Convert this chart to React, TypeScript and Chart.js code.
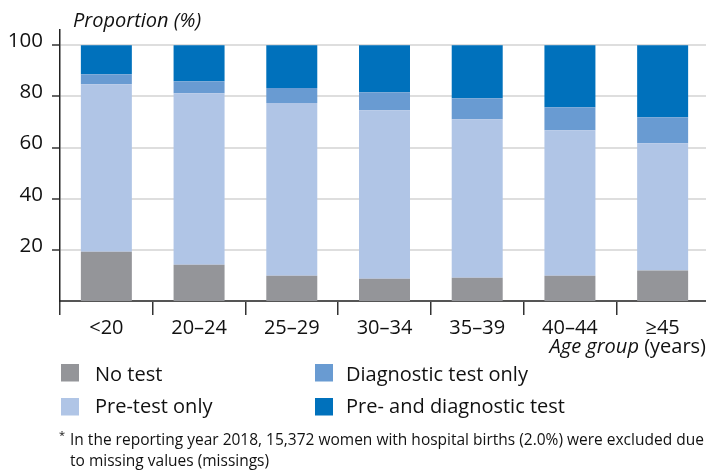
import React, { useEffect, useRef } from "react";
import { Chart, registerables } from "chart.js";

Chart.register(...registerables);

const categories = ["<20", "20–24", "25–29", "30–34", "35–39", "40–44", "≥45"];
const noTest = [19.3, 14.2, 9.9, 8.7, 9.1, 9.9, 11.9];
const preTestOnly = [65.5, 67.1, 67.5, 65.9, 62.0, 56.9, 49.8];
const diagnosticOnly = [3.9, 4.7, 5.9, 7.1, 8.2, 9.0, 10.2];
const preAndDiagnostic = [11.3, 14.0, 16.7, 18.3, 20.7, 24.2, 28.1];
const yTickValues = [20, 40, 60, 80, 100];

const seriesNames = ["No test", "Pre-test only", "Diagnostic test only", "Pre- and diagnostic test"];
const seriesColors = ["#949599", "#b0c5e6", "#699bd2", "#0071bc"];

const FONT = "'Open Sans', 'DejaVu Sans', sans-serif";
const TEXT = "#111111";

const textPlugin = {
  id: "textPlugin",
  afterDraw(chart: any) {
    const ctx = chart.ctx;
    ctx.save();
    ctx.fillStyle = TEXT;
    ctx.textBaseline = "alphabetic";
    // y axis title
    ctx.font = `italic 20px ${FONT}`;
    ctx.textAlign = "left";
    ctx.fillText("Proportion (%)", 73, 27);
    // x axis title (right aligned)
    ctx.font = `20px ${FONT}`;
    const yrs = " (years)";
    const wY = ctx.measureText(yrs).width;
    ctx.textAlign = "right";
    ctx.fillText(yrs, 706, 353);
    ctx.font = `italic 20px ${FONT}`;
    ctx.fillText("Age group", 706 - wY, 353);
    // legend
    const pos = [
      [61, 364, 95, 381],
      [61, 398, 95, 412.5],
      [315, 364, 346, 381],
      [315, 398, 346, 412.5],
    ];
    ctx.textAlign = "left";
    ctx.font = `20px ${FONT}`;
    chart.data.datasets.forEach((ds: any, i: number) => {
      const p = pos[i];
      ctx.fillStyle = ds.backgroundColor;
      ctx.fillRect(p[0], p[1], 18, 17.5);
      ctx.fillStyle = TEXT;
      ctx.fillText(ds.label, p[2], p[3]);
    });
    // footnote
    ctx.font = `11px ${FONT}`;
    ctx.fillText("*", 59, 439);
    ctx.font = `15.5px ${FONT}`;
    ctx.fillText(
      "In the reporting year 2018, 15,372 women with hospital births (2.0%) were excluded due",
      70,
      445
    );
    ctx.fillText("to missing values (missings)", 70, 466);
    ctx.restore();
  },
};

export default function App() {
  const ref = useRef<HTMLCanvasElement>(null);
  useEffect(() => {
    document.body.style.margin = "0";
    const values = [noTest, preTestOnly, diagnosticOnly, preAndDiagnostic];
    const chart = new Chart(ref.current!, {
      type: "bar",
      data: {
        labels: categories,
        datasets: values.map((v, i) => ({
          label: seriesNames[i],
          data: v,
          backgroundColor: seriesColors[i],
          borderWidth: 0,
          barPercentage: 0.55,
          categoryPercentage: 1,
        })),
      },
      options: {
        responsive: false,
        animation: false,
        layout: { padding: { top: 30, right: 3, bottom: 100, left: 0 } },
        plugins: {
          legend: { display: false },
          tooltip: { enabled: false },
          title: { display: false },
        },
        scales: {
          x: {
            stacked: true,
            offset: true,
            grid: {
              display: true,
              offset: true,
              drawOnChartArea: false,
              drawTicks: true,
              tickLength: 14,
              color: "#333",
              tickColor: "#333",
              lineWidth: 1.5,
              tickWidth: 1.5,
            },
            border: { display: true, color: "#555", width: 2 },
            ticks: {
              color: TEXT,
              font: { family: FONT, size: 20 },
              padding: 1,
              maxRotation: 0,
              autoSkip: false,
            },
            afterFit(scale: any) {
              scale.height = 74;
            },
          },
          y: {
            stacked: true,
            min: 0,
            max: 106,
            grid: {
              color: "#dedede",
              lineWidth: 2,
              tickLength: 8,
              tickColor: "#333",
              tickWidth: 1.5,
            },
            border: { display: true, color: "#222", width: 1.5 },
            ticks: {
              color: TEXT,
              font: { family: FONT, size: 20.5 },
              padding: 9,
              labelOffset: -4,
            },
            afterBuildTicks(scale: any) {
              scale.ticks = yTickValues.map((v) => ({ value: v }));
            },
            afterFit(scale: any) {
              scale.width = 60;
            },
          },
        },
      },
      plugins: [textPlugin],
    });
    return () => chart.destroy();
  }, []);
  return (
    <div style={{ position: "fixed", left: 0, top: 0, width: 706, height: 475, overflow: "hidden", background: "#fff" }}>
      <canvas ref={ref} width={712} height={475} style={{ width: 712, height: 475 }} />
    </div>
  );
}
